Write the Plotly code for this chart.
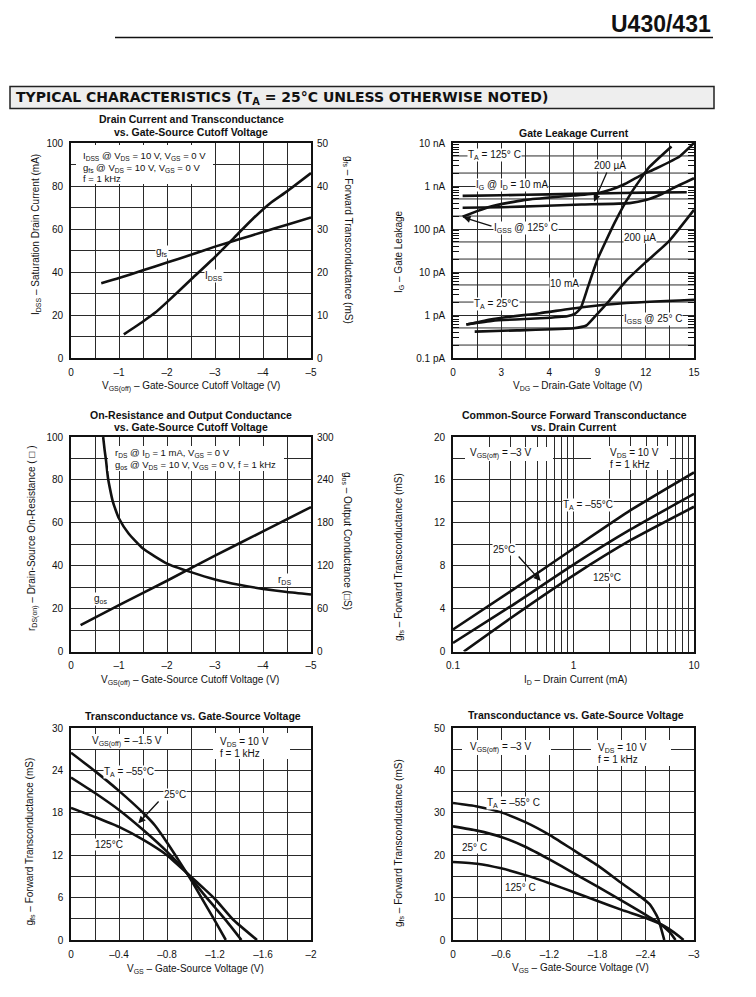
import numpy as np
import plotly.graph_objects as go

W, H = 756, 997
FONT = "Liberation Sans, Arial, Helvetica, sans-serif"
INK = "#111111"
GRID = "#2a2a2a"

# ---- 1: drain current and transconductance vs cutoff voltage
p1_idss_x = [-1.1, -1.5, -1.75, -2.0, -2.5, -3.0, -3.4, -3.8, -4.15, -4.5, -5.0]
p1_idss_y = [11, 17, 21, 26, 36.5, 47, 56, 65, 72, 77.5, 86]
p1_gfs_x = [-0.63, -1.0, -1.5, -2.0, -2.5, -3.0, -3.5, -4.0, -4.5, -5.0]
p1_gfs_y = [17.4, 18.6, 20.4, 22.2, 24.0, 25.9, 27.6, 29.3, 31.0, 32.7]

# ---- 2: gate leakage (pA) vs drain-gate voltage
p2_a_x = [0.6, 3, 6, 9, 12, 14.55]
p2_a_y = [590, 610, 640, 670, 700, 716]
p2_b_x = [0.6, 3, 5.4, 8, 11, 12, 13, 13.7, 15]
p2_b_y = [313, 320, 343, 370, 400, 470, 650, 890, 1510]
p2_c_x = [0.6, 1.5, 2.3, 3.5, 4.4, 6, 7.5, 9, 9.8, 10.6, 11.6, 12.7, 14.1, 15]
p2_c_y = [193, 260, 330, 410, 470, 540, 600, 680, 815, 1070, 1700, 2620, 4870, 10000]
p2_10ma_x = [0.83, 2.5, 5.4, 7.1, 7.6, 7.95, 8.4, 9.0, 10.07, 11.1, 12.2, 13.6]
p2_10ma_y = [0.6, 0.74, 0.84, 0.94, 1.07, 1.45, 4.5, 20, 143, 700, 2700, 8300]
p2_200ua_x = [1.35, 4, 7.5, 8.3, 8.9, 9.75, 10.8, 12.0, 13.4, 15]
p2_200ua_y = [0.41, 0.44, 0.49, 0.57, 0.98, 2.2, 6.4, 17, 50, 280]
p2_igss_x = [0.83, 2.5, 5.4, 7.9, 10.6, 15]
p2_igss_y = [0.6, 0.81, 1.1, 1.5, 1.88, 2.26]

# ---- 3: on-resistance and output conductance
p3_rds_x = [-0.67, -0.70, -0.73, -0.77, -0.82, -0.87, -0.93, -1.0, -1.2, -1.5,
            -2.0, -2.5, -3.0, -3.5, -4.0, -4.5, -5.0]
p3_rds_y = [100, 94, 89, 81, 75, 70, 66, 62, 55, 48, 41, 37, 33.6, 31.1, 29.2, 27.7, 26.6]
p3_gos_x = [-0.2, -1, -2, -3, -4, -5]
p3_gos_y = [37, 65, 99, 134, 168, 202]

# ---- 4: forward transconductance vs drain current
p4_x = [0.1, 0.3, 1, 3, 10]
p4_m55 = [2.05, 5.6, 9.6, 13.2, 16.7]
p4_25 = [0.8, 4.2, 8.1, 11.4, 14.7]
p4_125_x = [0.123, 0.3, 1, 3, 10]
p4_125 = [0, 3.1, 7.1, 10.4, 13.5]

# ---- 5: gfs vs VGS, VGS(off) = -1.5 V
p5_m55_x = [0, -0.2, -0.4, -0.6, -0.7, -0.8, -0.9, -1.0, -1.1, -1.2, -1.29]
p5_m55_y = [26.5, 23.9, 21.1, 18.0, 16.2, 13.8, 11.2, 8.5, 5.6, 2.7, 0]
p5_25_x = [0, -0.2, -0.4, -0.6, -0.8, -0.97, -1.1, -1.2, -1.3, -1.42]
p5_25_y = [23.0, 20.8, 18.4, 15.6, 12.5, 9.4, 6.6, 4.6, 2.6, 0]
p5_125_x = [0, -0.2, -0.4, -0.6, -0.8, -0.97, -1.1, -1.2, -1.35, -1.55]
p5_125_y = [18.7, 17.4, 16.0, 14.2, 12.0, 9.4, 7.4, 5.8, 2.9, 0]

# ---- 6: gfs vs VGS, VGS(off) = -3 V
p6_m55_x = [0, -0.3, -0.6, -0.9, -1.2, -1.5, -1.8, -2.1, -2.3, -2.45, -2.55, -2.63]
p6_m55_y = [32.3, 31.5, 30.1, 27.8, 24.8, 21.2, 17.6, 13.4, 10.7, 8.4, 5.2, 0]
p6_25_x = [0, -0.3, -0.6, -0.9, -1.2, -1.5, -1.8, -2.1, -2.4, -2.55, -2.7, -2.77]
p6_25_y = [26.8, 25.8, 24.3, 22.0, 19.0, 15.8, 12.6, 9.3, 5.9, 4.2, 1.8, 0]
p6_125_x = [0, -0.3, -0.6, -0.9, -1.2, -1.5, -1.8, -2.1, -2.4, -2.6, -2.75, -2.87]
p6_125_y = [18.4, 18.0, 16.9, 15.3, 13.4, 11.3, 9.2, 7.1, 5.2, 3.6, 1.8, 0]

# ---- tick labels
vgsoff_ticks = [0, -1, -2, -3, -4, -5]
p1_left_ticks = [0, 20, 40, 60, 80, 100]
p1_right_ticks = [0, 10, 20, 30, 40, 50]
p2_x_ticks = [0, 3, 6, 9, 12, 15]
p2_x_text = ["0", "3", "4", "9", "12", "15"]
p2_y_ticks = [0.1, 1, 10, 100, 1000, 10000]
p2_y_text = ["0.1 pA", "1 pA", "10 pA", "100 pA", "1 nA", "10 nA"]
p3_right_ticks = [0, 60, 120, 180, 240, 300]
p4_x_ticks = [0.1, 1, 10]
p4_y_ticks = [0, 4, 8, 12, 16, 20]
p5_x_ticks = [0, -0.4, -0.8, -1.2, -1.6, -2]
p5_y_ticks = [0, 6, 12, 18, 24, 30]
p6_x_ticks = [0, -0.6, -1.2, -1.8, -2.4, -3]
p6_y_ticks = [0, 10, 20, 30, 40, 50]


def dash(v):
    return "0" if v == 0 else f"–{abs(v):g}"


def px(x, y):
    return x / W, 1 - y / H


LX = [71 / W, 311 / W]
RX = [453 / W, 694 / W]
ROW1 = [1 - 358 / H, 1 - 143 / H]
ROW2 = [1 - 651.5 / H, 1 - 437 / H]
ROW3 = [1 - 940 / H, 1 - 728 / H]

TICKFONT = dict(family=FONT, size=10, color=INK)


def axis(domain, rng, tickvals, ticktext, minor_vals, anchor, **kw):
    d = dict(domain=domain, range=rng, tickmode="array", tickvals=tickvals,
             ticktext=ticktext, showgrid=True, gridcolor=GRID, gridwidth=1,
             minor=dict(tickvals=list(minor_vals), showgrid=True, gridcolor=GRID,
                        gridwidth=1, ticks=""),
             ticks="", showline=True, linecolor=INK, linewidth=1.6, mirror=True,
             zeroline=False, anchor=anchor, tickfont=TICKFONT,
             ticklabelstandoff=4, fixedrange=True)
    d.update(kw)
    return d


def right_axis(domain, rng, tickvals, over, anchor):
    return dict(domain=domain, range=rng, tickmode="array", tickvals=tickvals,
                ticktext=[str(v) for v in tickvals], overlaying=over, side="right",
                anchor=anchor, showgrid=False, ticks="", showline=False,
                zeroline=False, tickfont=TICKFONT, ticklabelstandoff=5,
                fixedrange=True)


fig = go.Figure()


def curve(x, y, xa, ya, smoothing=0.5):
    fig.add_trace(go.Scatter(x=x, y=y, xaxis=xa, yaxis=ya, mode="lines",
                             line=dict(color=INK, width=2.6, shape="spline",
                                       smoothing=smoothing),
                             hoverinfo="skip", showlegend=False))


curve(p1_idss_x, p1_idss_y, "x", "y")
curve(p1_gfs_x, p1_gfs_y, "x", "y7")
for cx, cy in [(p2_a_x, p2_a_y), (p2_b_x, p2_b_y), (p2_c_x, p2_c_y),
               (p2_10ma_x, p2_10ma_y), (p2_200ua_x, p2_200ua_y), (p2_igss_x, p2_igss_y)]:
    curve(cx, cy, "x2", "y2", smoothing=0.4)
curve(p3_rds_x, p3_rds_y, "x3", "y3")
curve(p3_gos_x, p3_gos_y, "x3", "y8")
curve(p4_x, p4_m55, "x4", "y4")
curve(p4_x, p4_25, "x4", "y4")
curve(p4_125_x, p4_125, "x4", "y4")
curve(p5_m55_x, p5_m55_y, "x5", "y5")
curve(p5_25_x, p5_25_y, "x5", "y5")
curve(p5_125_x, p5_125_y, "x5", "y5")
curve(p6_m55_x, p6_m55_y, "x6", "y6")
curve(p6_25_x, p6_25_y, "x6", "y6")
curve(p6_125_x, p6_125_y, "x6", "y6")

decade_minor = [m * 10.0 ** k for k in range(-1, 4) for m in range(2, 10)]
log_minor_x = [m * 10.0 ** k for k in (-1, 0) for m in range(2, 10)]

layout_axes = dict(
    xaxis=axis(LX, [0, -5], vgsoff_ticks, [dash(v) for v in vgsoff_ticks],
               np.arange(-0.5, -5, -1.0), "y"),
    yaxis=axis(ROW1, [0, 100], p1_left_ticks, [str(v) for v in p1_left_ticks],
               np.arange(10, 100, 20), "x"),
    yaxis7=right_axis(ROW1, [0, 50], p1_right_ticks, "y", "x"),
    xaxis2=axis(RX, [0, 15], p2_x_ticks, p2_x_text, np.arange(1.5, 15, 3), "y2"),
    yaxis2=dict(domain=ROW1, type="log", range=[-1, 4], tickmode="array",
                tickvals=p2_y_ticks, ticktext=p2_y_text, showgrid=True,
                gridcolor=GRID, gridwidth=1, ticks="",
                minor=dict(tickvals=decade_minor, ticks="inside", ticklen=6,
                           tickcolor=INK, tickwidth=1, showgrid=False),
                showline=True, linecolor=INK, linewidth=1.6, mirror="allticks",
                zeroline=False, anchor="x2", tickfont=TICKFONT,
                ticklabelstandoff=4, fixedrange=True),
    xaxis3=axis(LX, [0, -5], vgsoff_ticks, [dash(v) for v in vgsoff_ticks],
                np.arange(-0.5, -5, -1.0), "y3"),
    yaxis3=axis(ROW2, [0, 100], p1_left_ticks, [str(v) for v in p1_left_ticks],
                np.arange(10, 100, 20), "x3"),
    yaxis8=right_axis(ROW2, [0, 300], p3_right_ticks, "y3", "x3"),
    xaxis4=axis(RX, [-1, 1], p4_x_ticks, ["0.1", "1", "10"], log_minor_x, "y4",
                type="log"),
    yaxis4=axis(ROW2, [0, 20], p4_y_ticks, [str(v) for v in p4_y_ticks],
                np.arange(2, 20, 4), "x4"),
    xaxis5=axis(LX, [0, -2], p5_x_ticks, [dash(v) for v in p5_x_ticks],
                np.arange(-0.2, -2, -0.4), "y5"),
    yaxis5=axis(ROW3, [0, 30], p5_y_ticks, [str(v) for v in p5_y_ticks],
                np.arange(3, 30, 6), "x5"),
    xaxis6=axis(RX, [0, -3], p6_x_ticks, [dash(v) for v in p6_x_ticks],
                np.arange(-0.3, -3, -0.6), "y6"),
    yaxis6=axis(ROW3, [0, 50], p6_y_ticks, [str(v) for v in p6_y_ticks],
                np.arange(5, 50, 10), "x6"),
)

shapes = []
# extra 2x / 5x grid lines on the leakage chart
for k in range(-1, 4):
    for m in (2, 5):
        shapes.append(dict(type="line", xref="x2 domain", x0=0, x1=1, yref="y2",
                           y0=m * 10.0 ** k, y1=m * 10.0 ** k, layer="below",
                           line=dict(color=GRID, width=1)))


def paper_rect(xa, ya, xb, yb, **kw):
    x0, y0 = px(xa, ya)
    x1, y1 = px(xb, yb)
    d = dict(type="rect", xref="paper", yref="paper", x0=x0, x1=x1, y0=y1, y1=y0)
    d.update(kw)
    shapes.append(d)


# page header rule and section bar
x0, y0 = px(115, 37.5)
x1, _ = px(713, 37.5)
shapes.append(dict(type="line", xref="paper", yref="paper", x0=x0, x1=x1, y0=y0, y1=y0,
                   line=dict(color=INK, width=1.5)))
paper_rect(10, 86.5, 714, 108.5, fillcolor="#eeeeee", line=dict(color="#222", width=1.5))

# white boxes behind the condition notes
for box in [(76, 145, 213, 184), (108, 446, 284, 471), (465, 447, 553, 461),
            (591, 446, 670, 470), (86, 734, 168, 749), (213, 733, 290, 759),
            (462, 740, 551, 755), (591, 740, 671, 766)]:
    paper_rect(*box, fillcolor="white", line=dict(width=0), layer="above")

ann = []


def text(t, x, y, anchor="center", size=10, bg=None, angle=0, family=FONT):
    ax, ay = px(x, y)
    d = dict(text=t, x=ax, y=ay, xref="paper", yref="paper", showarrow=False,
             xanchor=anchor, yanchor="middle", textangle=angle,
             font=dict(family=family, size=size, color=INK))
    if bg:
        d.update(bgcolor=bg, borderpad=0)
    ann.append(d)


def arrow(hx, hy, tx, ty):
    ax, ay = px(hx, hy)
    ann.append(dict(text="", x=ax, y=ay, xref="paper", yref="paper", showarrow=True,
                    ax=tx - hx, ay=ty - hy, arrowhead=2, arrowsize=1.1,
                    arrowwidth=1.3, arrowcolor=INK, standoff=0))


# header
text("<b>U430/431</b>", 713, 23.5, anchor="right", size=23)
text("<b>TYPICAL CHARACTERISTICS (T<sub>A</sub> = 25°C UNLESS OTHERWISE NOTED)</b>",
     14, 97.5, anchor="left", size=14, family="DejaVu Sans, sans-serif")

# chart titles
text("<b>Drain Current and Transconductance</b>", 191, 119.3, size=10.5)
text("<b>vs. Gate-Source Cutoff Voltage</b>", 191, 132, size=10.5)
text("<b>Gate Leakage Current</b>", 574, 133, size=10.5)
text("<b>On-Resistance and Output Conductance</b>", 191, 414.5, size=10.5)
text("<b>vs. Gate-Source Cutoff Voltage</b>", 191, 426.5, size=10.5)
text("<b>Common-Source Forward Transconductance</b>", 574, 414.5, size=10.5)
text("<b>vs. Drain Current</b>", 574, 426.5, size=10.5)
text("<b>Transconductance vs. Gate-Source Voltage</b>", 193, 716, size=10.5)
text("<b>Transconductance vs. Gate-Source Voltage</b>", 576, 715, size=10.5)

# axis titles
vgsoff = "V<sub>GS(off)</sub> – Gate-Source Cutoff Voltage (V)"
gfs = "g<sub>fs</sub> – Forward Transconductance (mS)"
text(vgsoff, 191, 386)
text("I<sub>DSS</sub> – Saturation Drain Current (mA)", 36, 235, angle=-90)
text(gfs, 348, 240, angle=90)
text("V<sub>DG</sub> – Drain-Gate Voltage (V)", 577, 386)
text("I<sub>G</sub> – Gate Leakage", 399, 252, angle=-90)
text(vgsoff, 190, 680)
text("r<sub>DS(on)</sub> – Drain-Source On-Resistance ( □ )", 32, 538, angle=-90)
text("g<sub>os</sub> – Output Conductance (□S)", 347, 541, angle=90)
text("I<sub>D</sub> – Drain Current (mA)", 575, 680)
text(gfs, 399, 557, angle=-90)
text("V<sub>GS</sub> – Gate-Source Voltage (V)", 195, 969)
text(gfs, 29.5, 842, angle=-90)
text("V<sub>GS</sub> – Gate-Source Voltage (V)", 580, 968)
text(gfs, 399, 843, angle=-90)

# chart 1 notes
text("I<sub>DSS</sub> @ V<sub>DS</sub> = 10 V, V<sub>GS</sub> = 0 V", 81, 156, anchor="left", size=9.5)
text("g<sub>fs</sub> @ V<sub>DS</sub> = 10 V, V<sub>GS</sub> = 0 V", 81, 167.5, anchor="left", size=9.5)
text("f = 1 kHz", 81, 178.5, anchor="left", size=9.5)
text("g<sub>fs</sub>", 162, 252.5, bg="white")
text("I<sub>DSS</sub>", 214, 276, bg="white")

# chart 2 notes
text("T<sub>A</sub> = 125° C", 494, 154.5, bg="white")
text("I<sub>G</sub> @ I<sub>D</sub> = 10 mA", 512, 184.5, bg="white")
text("200 µA", 610, 165, bg="white")
arrow(594, 201.7, 607.5, 171)
text("I<sub>GSS</sub> @ 125° C", 526, 228.5, bg="white")
arrow(463.3, 217.3, 493, 226.7)
text("200 µA", 640, 237, bg="white")
text("10 mA", 564, 283.5, bg="white")
text("T<sub>A</sub> = 25°C", 496, 303.5, bg="white")
text("I<sub>GSS</sub> @ 25° C", 653, 318.5, bg="white")

# chart 3 notes
text("r<sub>DS</sub> @ I<sub>D</sub> = 1 mA, V<sub>GS</sub> = 0 V", 113, 452.5, anchor="left", size=9.5)
text("g<sub>os</sub> @ V<sub>DS</sub> = 10 V, V<sub>GS</sub> = 0 V, f = 1 kHz", 113, 464.5, anchor="left", size=9.5)
text("r<sub>DS</sub>", 284, 580, bg="white")
text("g<sub>os</sub>", 100, 598.5, bg="white")

# chart 4 notes
text("V<sub>GS(off)</sub> = –3 V", 500, 453.5)
text("V<sub>DS</sub> = 10 V", 608, 452.5, anchor="left")
text("f = 1 kHz", 608, 464, anchor="left")
text("T<sub>A</sub> = –55°C", 588, 505, bg="white")
text("25°C", 504, 549, bg="white")
arrow(540.7, 581, 517.3, 555)
text("125°C", 607, 577, bg="white")

# chart 5 notes
text("V<sub>GS(off)</sub> = –1.5 V", 127, 741.5)
text("V<sub>DS</sub> = 10 V", 218, 741.5, anchor="left")
text("f = 1 kHz", 218, 753, anchor="left")
text("T<sub>A</sub> = –55°C", 129, 771.5, bg="white")
text("25°C", 175, 794.5, bg="white")
arrow(138.3, 823.3, 160, 800)
text("125°C", 108.5, 844.5, bg="white")

# chart 6 notes
text("V<sub>GS(off)</sub> = –3 V", 500, 747.5)
text("V<sub>DS</sub> = 10 V", 596, 747.5, anchor="left")
text("f = 1 kHz", 596, 759, anchor="left")
text("T<sub>A</sub> = –55° C", 513, 802.5, bg="white")
text("25° C", 475, 847, bg="white")
text("125° C", 520, 887, bg="white")

fig.update_layout(
    width=W, height=H,
    margin=dict(l=0, r=0, t=0, b=0),
    template="none",
    paper_bgcolor="white",
    plot_bgcolor="white",
    font=dict(family=FONT, size=10, color=INK),
    showlegend=False,
    shapes=shapes,
    annotations=ann,
    **layout_axes,
)

fig.write_html("out.html", config={"displayModeBar": False},
               post_script="document.body.style.margin='0';")
